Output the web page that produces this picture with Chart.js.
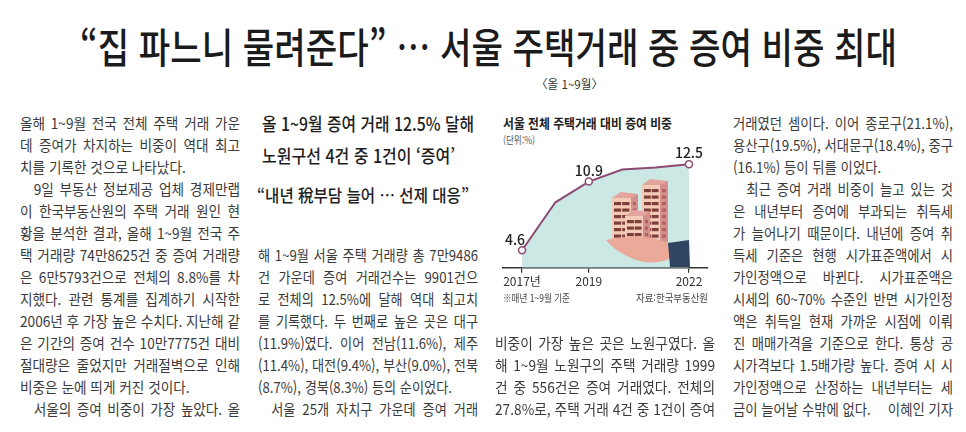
<!DOCTYPE html>
<html lang="ko">
<head>
<meta charset="utf-8">
<script src="https://cdn.jsdelivr.net/npm/chart.js@4.4.1/dist/chart.umd.min.js"></script>
<style>
  html, body { margin: 0; padding: 0; background: #fff; }
  body { width: 966px; height: 432px; position: relative; overflow: hidden;
         font-family: "Noto Sans CJK KR", "Noto Sans", sans-serif; color: #3a3a3a; }
  .abs { position: absolute; white-space: nowrap; transform-origin: 0 0; }
  #headline { left: 80px; top: 25px; font-size: 41px; line-height: 40px; font-weight: 500; color: #1b1b1b; }
  #subhead { left: 536px; top: 76.5px; font-size: 12px; line-height: 14px; color: #333; }
  .col { position: absolute; width: 220px; }
  .inner { transform-origin: 0 0; }
  .ln { font-size: 15px; line-height: 22px; height: 22px; white-space: nowrap; }
  .ln.j { text-align: justify; text-align-last: justify; }
  .ln.in { padding-left: 15px; }
  .hd { font-size: 18px; line-height: 24px; font-weight: 500; color: #1e1e1e; }
  #chartTitle { left: 503px; top: 115px; font-size: 13px; line-height: 16px; font-weight: 700; color: #222; }
  #unit { left: 503px; top: 134px; font-size: 10px; line-height: 12px; color: #555; }
  #note { left: 503px; top: 291px; font-size: 10.5px; line-height: 13px; color: #444; }
  #source { left: 636px; top: 291px; font-size: 10.5px; line-height: 13px; color: #444; }
  #chartBox { position: absolute; left: 495px; top: 100px; width: 225px; height: 200px; }
</style>
</head>
<body>
<div id="headline" class="abs">“집 파느니 물려준다” … 서울 주택거래 중 증여 비중 최대</div>
<div id="subhead" class="abs">〈올 1~9월〉</div>

<div id="h1" class="abs hd" style="left:262px;top:111px">올 1~9월 증여 거래 12.5% 달해</div>
<div id="h2" class="abs hd" style="left:262px;top:143px">노원구선 4건 중 1건이 ‘증여’</div>
<div id="h3" class="abs hd" style="left:257px;top:183px;font-size:17px">“내년 稅부담 늘어 … 선제 대응”</div>

<div id="chartTitle" class="abs">서울 전체 주택거래 대비 증여 비중</div>
<div id="unit" class="abs">(단위:%)</div>
<div id="chartBox"><canvas id="giftChart" width="225" height="200"></canvas></div>
<div id="note" class="abs">※매년 1~9월 기준</div>
<div id="source" class="abs">자료:한국부동산원</div>

<div class="col" id="c1" style="left:20px;top:112px"></div>
<div class="col" id="c2" style="left:258px;top:244px"></div>
<div class="col" id="c3" style="left:495px;top:332px"></div>
<div class="col" id="c4" style="left:733px;top:112px"></div>

<script>
// chart values
const years = [2017, 2018, 2019, 2020, 2021, 2022];
const giftShare = [4.6, 9.0, 10.9, 12.0, 12.2, 12.5];
const labeledYears = [2017, 2019, 2022];
const tickYears = [2017, 2019, 2022];
const tickLabels = ['2017년', '2019', '2022'];

// article lines: leading ">" = indent, trailing "|" = paragraph end, trailing "#" = byline row
const col1Lines = [
  '올해 1~9월 전국 전체 주택 거래 가운',
  '데 증여가 차지하는 비중이 역대 최고',
  '치를 기록한 것으로 나타났다.|',
  '>9일 부동산 정보제공 업체 경제만랩',
  '이 한국부동산원의 주택 거래 원인 현',
  '황을 분석한 결과, 올해 1~9월 전국 주',
  '택 거래량 74만8625건 중 증여 거래량',
  '은 6만5793건으로 전체의 8.8%를 차',
  '지했다. 관련 통계를 집계하기 시작한',
  '2006년 후 가장 높은 수치다. 지난해 같',
  '은 기간의 증여 건수 10만7775건 대비',
  '절대량은 줄었지만 거래절벽으로 인해',
  '비중은 눈에 띄게 커진 것이다.|',
  '>서울의 증여 비중이 가장 높았다. 올'
];
const col2Lines = [
  '해 1~9월 서울 주택 거래량 총 7만9486',
  '건 가운데 증여 거래건수는 9901건으',
  '로 전체의 12.5%에 달해 역대 최고치',
  '를 기록했다. 두 번째로 높은 곳은 대구',
  '(11.9%)였다. 이어 전남(11.6%), 제주',
  '(11.4%), 대전(9.4%), 부산(9.0%), 전북',
  '(8.7%), 경북(8.3%) 등의 순이었다.|',
  '>서울 25개 자치구 가운데 증여 거래'
];
const col3Lines = [
  '비중이 가장 높은 곳은 노원구였다. 올',
  '해 1~9월 노원구의 주택 거래량 1999',
  '건 중 556건은 증여 거래였다. 전체의',
  '27.8%로, 주택 거래 4건 중 1건이 증여'
];
const col4Lines = [
  '거래였던 셈이다. 이어 종로구(21.1%),',
  '용산구(19.5%), 서대문구(18.4%), 중구',
  '(16.1%) 등이 뒤를 이었다.|',
  '>최근 증여 거래 비중이 늘고 있는 것',
  '은 내년부터 증여에 부과되는 취득세',
  '가 늘어나기 때문이다. 내년에 증여 취',
  '득세 기준은 현행 시가표준액에서 시',
  '가인정액으로 바뀐다. 시가표준액은',
  '시세의 60~70% 수준인 반면 시가인정',
  '액은 취득일 현재 가까운 시점에 이뤄',
  '진 매매가격을 기준으로 한다. 통상 공',
  '시가격보다 1.5배가량 높다. 증여 시 시',
  '가인정액으로 산정하는 내년부터는 세',
  '금이 늘어날 수밖에 없다. 이혜인 기자#'
];

// build a column and squeeze it horizontally so the longest line fits
function buildColumn(id, lines, width) {
  const col = document.getElementById(id);
  const inner = document.createElement('div');
  inner.className = 'inner';
  col.appendChild(inner);
  let maxW = 0;
  const rows = lines.map(raw => {
    let t = raw, indent = false, end = false, byline = false;
    if (t.startsWith('>')) { indent = true; t = t.slice(1); }
    if (t.endsWith('|')) { end = true; t = t.slice(0, -1); }
    if (t.endsWith('#')) { byline = true; t = t.slice(0, -1); }
    const row = document.createElement('div');
    row.className = 'ln' + (indent ? ' in' : '');
    const sp = document.createElement('span');
    sp.textContent = t;
    row.appendChild(sp);
    inner.appendChild(row);
    const w = sp.getBoundingClientRect().width + (indent ? 15 : 0);
    if (!end && !byline && w > maxW) maxW = w;
    return { row, end, byline, t };
  });
  const s = width / maxW;
  inner.style.width = (width / s) + 'px';
  inner.style.transform = 'scaleX(' + s + ')';
  rows.forEach(r => {
    if (r.byline) {
      const cut = r.t.lastIndexOf(' 이혜인');
      r.row.innerHTML = '';
      const a = document.createElement('span');
      a.textContent = r.t.slice(0, cut);
      const b = document.createElement('span');
      b.textContent = r.t.slice(cut + 1);
      b.style.float = 'right';
      r.row.appendChild(a);
      r.row.appendChild(b);
    } else if (!r.end) {
      r.row.classList.add('j');
      r.row.textContent = r.t;
    }
  });
}

function fitWidth(id, target) {
  const el = document.getElementById(id);
  const w = el.getBoundingClientRect().width;
  el.style.transform = 'scaleX(' + (target / w) + ')';
}

buildColumn('c1', col1Lines, 220);
buildColumn('c2', col2Lines, 220);
buildColumn('c3', col3Lines, 220);
buildColumn('c4', col4Lines, 220);
fitWidth('headline', 817);
fitWidth('subhead', 67);
fitWidth('h1', 212);
fitWidth('h2', 193);
fitWidth('h3', 212);
fitWidth('chartTitle', 169);
fitWidth('unit', 32);
fitWidth('note', 67);
fitWidth('source', 72);

const lineColor = '#8b4c74';
const fontFamily = '"Noto Sans CJK KR", "Noto Sans", sans-serif';

// decorative illustration: apartment blocks held on a hand (page coordinates)
const illustration = {
  id: 'illustration',
  afterDatasetsDraw(chart) {
    const ctx = chart.ctx;
    ctx.save();
    ctx.translate(-495, -100);
    const poly = (pts, color) => {
      ctx.beginPath();
      pts.forEach((p, i) => i ? ctx.lineTo(p[0], p[1]) : ctx.moveTo(p[0], p[1]));
      ctx.closePath();
      ctx.fillStyle = color;
      ctx.fill();
    };
    const building = (x, top, w, side, bottom) => {
      poly([[x, top + 6], [x + w * 0.45, top], [x + w + side, top + 2], [x + w + side, bottom], [x, bottom]], '#e3a49e');
      poly([[x + w, top + 6], [x + w + side, top + 2], [x + w + side, bottom], [x + w, bottom]], '#d48f8d');
      poly([[x, top + 6], [x + w, top + 6], [x + w, bottom], [x, bottom]], '#f3cbb7');
      ctx.fillStyle = '#7e3f3b';
      for (let yy = top + 10; yy < bottom - 4; yy += 6.5) {
        ctx.fillRect(x + 2, yy, w * 0.38, 3.2);
        ctx.fillRect(x + w * 0.54, yy, w * 0.38, 3.2);
      }
      ctx.fillStyle = '#b0625e';
      for (let yy = top + 10; yy < bottom - 4; yy += 6.5) ctx.fillRect(x + w + 2, yy, side - 4, 3.2);
    };
    building(612, 192, 19, 7, 246);
    building(642, 179, 18, 8, 242);
    building(625, 210, 18, 7, 252);
    // hand
    ctx.beginPath();
    ctx.moveTo(606, 240);
    ctx.quadraticCurveTo(630, 234, 652, 238);
    ctx.lineTo(670, 243);
    ctx.lineTo(671, 258);
    ctx.quadraticCurveTo(655, 266, 636, 260);
    ctx.quadraticCurveTo(615, 252, 606, 240);
    ctx.fillStyle = '#eaa999';
    ctx.fill();
    // sleeve
    poly([[668, 243], [689, 240], [690, 267], [670, 267]], '#2f4562');
    ctx.restore();
  }
};

const valueLabels = {
  id: 'valueLabels',
  afterDatasetsDraw(chart) {
    const ctx = chart.ctx;
    const meta = chart.getDatasetMeta(0);
    ctx.save();
    ctx.fillStyle = '#222';
    ctx.font = '500 14px ' + fontFamily;
    ctx.textAlign = 'center';
    ctx.textBaseline = 'bottom';
    years.forEach((yr, i) => {
      if (!labeledYears.includes(yr)) return;
      const pt = meta.data[i];
      const dx = i === 0 ? -7 : 0;
      ctx.fillText(giftShare[i].toFixed(1), pt.x + dx, pt.y - 4);
    });
    ctx.restore();
  }
};

new Chart(document.getElementById('giftChart'), {
  type: 'line',
  data: {
    datasets: [{
      data: years.map((y, i) => ({ x: y, y: giftShare[i] })),
      borderColor: lineColor,
      borderWidth: 2,
      tension: 0,
      fill: 'start',
      backgroundColor: '#cbe8e5',
      pointRadius: ctx => labeledYears.includes(years[ctx.dataIndex]) ? 3.5 : 0,
      pointBackgroundColor: '#fff',
      pointBorderColor: lineColor,
      pointBorderWidth: 1.5
    }]
  },
  options: {
    responsive: false,
    animation: false,
    layout: { padding: { left: 8, right: 12, top: 47.8, bottom: 12.3 } },
    plugins: { legend: { display: false }, tooltip: { enabled: false } },
    scales: {
      x: {
        type: 'linear',
        min: 2016.43,
        max: 2022.57,
        afterBuildTicks: s => { s.ticks = tickYears.map(v => ({ value: v })); },
        afterFit: s => { s.height = 20; },
        ticks: {
          callback: v => tickLabels[tickYears.indexOf(v)],
          color: '#333',
          font: { size: 12, family: fontFamily },
          padding: 2,
          maxRotation: 0,
          autoSkip: false
        },
        grid: { drawOnChartArea: false, color: '#333', tickLength: 5, lineWidth: 1.2 },
        border: { color: '#333', width: 1.5 }
      },
      y: { display: false, min: 3, max: 14 }
    }
  },
  plugins: [illustration, valueLabels]
});
</script>
</body>
</html>
